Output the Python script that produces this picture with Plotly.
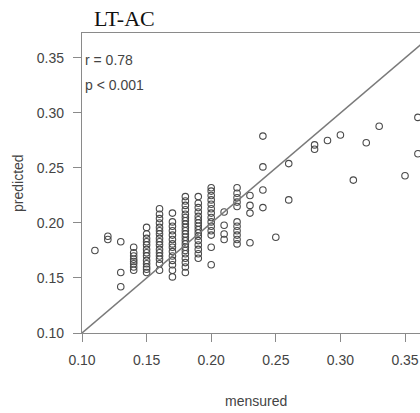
import plotly.graph_objects as go

# ---- data ----
m011 = [0.175]
m012 = [0.185, 0.188]
m013 = [0.142, 0.155, 0.183]
m014 = [0.157, 0.160, 0.163, 0.165, 0.167, 0.170, 0.173, 0.178]
m015 = [0.155, 0.158, 0.160, 0.163, 0.166, 0.170, 0.173, 0.176, 0.180, 0.183, 0.186, 0.190, 0.196]
m016 = [0.157, 0.163, 0.167, 0.170, 0.173, 0.176, 0.180, 0.183, 0.186, 0.190, 0.193, 0.196, 0.200, 0.204, 0.208, 0.213]
m017 = [0.151, 0.157, 0.162, 0.166, 0.170, 0.174, 0.178, 0.181, 0.185, 0.189, 0.193, 0.197, 0.201, 0.209]
m018 = [0.155, 0.160, 0.164, 0.168, 0.172, 0.175, 0.178, 0.181, 0.184, 0.187, 0.190, 0.193, 0.196, 0.199,
        0.202, 0.205, 0.208, 0.212, 0.216, 0.220, 0.224]
m019 = [0.168, 0.172, 0.176, 0.180, 0.184, 0.188, 0.191, 0.194, 0.197, 0.200, 0.203, 0.206, 0.210, 0.214, 0.218, 0.224]
m020 = [0.162, 0.178, 0.189, 0.193, 0.197, 0.201, 0.205, 0.209, 0.213, 0.217, 0.221, 0.225, 0.229, 0.232]
m021 = [0.185, 0.190, 0.198, 0.210]
m022 = [0.181, 0.185, 0.189, 0.193, 0.197, 0.201, 0.215, 0.219, 0.223, 0.227, 0.232]
m023 = [0.182, 0.209, 0.216, 0.225]
m024 = [0.214, 0.230, 0.251, 0.279]
m025 = [0.187]
m026 = [0.221, 0.254]
m028 = [0.267, 0.271]
m029 = [0.275]
m030 = [0.280]
m031 = [0.239]
m032 = [0.273]
m033 = [0.288]
m035 = [0.243]
m036 = [0.263, 0.296]

columns = [(0.11, m011), (0.12, m012), (0.13, m013), (0.14, m014), (0.15, m015), (0.16, m016),
           (0.17, m017), (0.18, m018), (0.19, m019), (0.20, m020), (0.21, m021), (0.22, m022),
           (0.23, m023), (0.24, m024), (0.25, m025), (0.26, m026), (0.28, m028), (0.29, m029),
           (0.30, m030), (0.31, m031), (0.32, m032), (0.33, m033), (0.35, m035), (0.36, m036)]

mensured = []
predicted = []
for mv, vals in columns:
    for v in vals:
        mensured.append(mv)
        predicted.append(v)

tick_vals = [0.10, 0.15, 0.20, 0.25, 0.30, 0.35]
tick_text = ["0.10", "0.15", "0.20", "0.25", "0.30", "0.35"]
title_text = "LT-AC"
stats_lines = ["r = 0.78", "p < 0.001"]

x_range = [0.10, 0.3616]
y_range = [0.10, 0.3727]

axis_col = "#8a8a8a"
text_col = "#444444"

fig = go.Figure()
fig.add_trace(go.Scatter(
    x=mensured, y=predicted, mode="markers",
    marker=dict(symbol="circle-open", size=6.5, color="#4a4a4a", line=dict(width=1.1, color="#4a4a4a")),
    showlegend=False, hoverinfo="x+y", cliponaxis=False,
))
# 1:1 line across the axis range
lo, hi = x_range[0], max(x_range[1], y_range[1])
fig.add_trace(go.Scatter(
    x=[lo, hi], y=[lo, hi], mode="lines",
    line=dict(color="#7a7a7a", width=1.5), showlegend=False, hoverinfo="skip",
))

axis_common = dict(
    showgrid=False, zeroline=False, showline=True, linecolor=axis_col, linewidth=1.3,
    ticks="outside", ticklen=8, tickcolor=axis_col, tickwidth=1.3,
    tickvals=tick_vals, ticktext=tick_text,
    tickfont=dict(family="Liberation Sans, Arial", size=14, color=text_col),
)

fig.update_layout(
    width=420, height=413,
    margin=dict(l=82, r=0, t=33, b=80),
    paper_bgcolor="white", plot_bgcolor="white",
    xaxis=dict(range=x_range, mirror=True, ticklabelstandoff=6, **axis_common),
    yaxis=dict(range=y_range, ticklabelstandoff=6, **axis_common),
    annotations=[
        dict(text=title_text, xref="paper", yref="paper", x=0.127, y=1, yshift=15,
             xanchor="center", yanchor="middle", showarrow=False,
             font=dict(family="Liberation Serif, Times New Roman", size=22, color="#111111")),
        dict(text=stats_lines[0], xref="paper", yref="paper", x=0, y=1, xshift=1, yshift=-27,
             xanchor="left", yanchor="middle", showarrow=False,
             font=dict(family="Liberation Sans, Arial", size=14, color=text_col)),
        dict(text=stats_lines[1], xref="paper", yref="paper", x=0, y=1, xshift=1, yshift=-52,
             xanchor="left", yanchor="middle", showarrow=False,
             font=dict(family="Liberation Sans, Arial", size=14, color=text_col)),
        dict(text="mensured", xref="paper", yref="paper", x=0.515, y=0, yshift=-68,
             xanchor="center", yanchor="middle", showarrow=False,
             font=dict(family="Liberation Sans, Arial", size=14, color=text_col)),
        dict(text="predicted", xref="paper", yref="paper", x=0, y=0.5, xshift=-64,
             xanchor="center", yanchor="middle", textangle=-90, showarrow=False,
             font=dict(family="Liberation Sans, Arial", size=14, color=text_col)),
    ],
)

fig.write_html("out.html")
